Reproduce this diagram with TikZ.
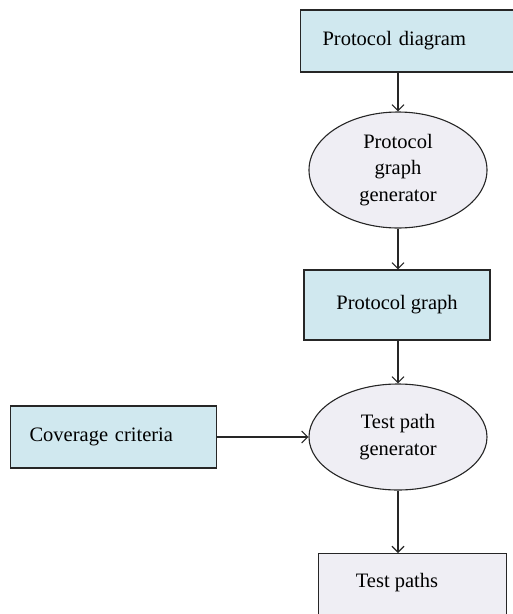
\documentclass[tikz,border=0pt]{standalone}
\usepackage{fontspec}
\setmainfont{Liberation Serif}
\usetikzlibrary{shapes.geometric,arrows.meta}
\definecolor{boxblue}{HTML}{D0E8EF}
\definecolor{boxgray}{HTML}{EFEEF4}
\begin{document}
\begin{tikzpicture}[x=1pt,y=1pt,
  every node/.style={font=\fontsize{20.5}{26.5}\selectfont},
  bluebox/.style={draw=black!85,line width=1.1pt,fill=boxblue,minimum height=62pt},
  graybox/.style={draw=black!85,line width=1.1pt,fill=boxgray,minimum height=62pt},
  oval/.style={ellipse,draw=black!85,line width=1.1pt,fill=boxgray,inner sep=0pt,align=center},
  conn/.style={line width=1.1pt,draw=black!85,-{Straight Barb[length=6pt,width=12pt]}}]
\useasboundingbox (0,0) rectangle (513,-614);
\node[bluebox,anchor=west,text width=171pt,inner xsep=22pt,align=left] (pd) at (300,-41) {Protocol diagram};
\node[oval,minimum width=178pt,minimum height=116pt] (pgg) at (398,-170) {\raisebox{-3pt}{\parbox{92pt}{\centering Protocol\\graph\\generator}}};
\node[bluebox,minimum width=186pt,minimum height=70pt] (pg) at (397,-305) {Protocol graph};
\node[oval,minimum width=178pt,minimum height=106pt] (tpg) at (398,-437) {Test path\\generator};
\node[bluebox,anchor=west,text width=168pt,inner xsep=19pt,align=left] (cc) at (10,-437) {Coverage criteria};
\node[graybox,anchor=north west,minimum width=188pt,minimum height=80pt] (tp) at (318,-553) {};
\node (tpt) at (397,-583) {Test paths};
\draw[conn] (pd.south -| pgg.north) -- (pgg.north);
\draw[conn] (pgg.south) -- (pg.north -| pgg.south);
\draw[conn] (pg.south -| tpg.north) -- (tpg.north);
\draw[conn] (cc.east) -- (tpg.west);
\draw[conn] (tpg.south) -- (tp.north -| tpg.south);
\end{tikzpicture}
\end{document}
